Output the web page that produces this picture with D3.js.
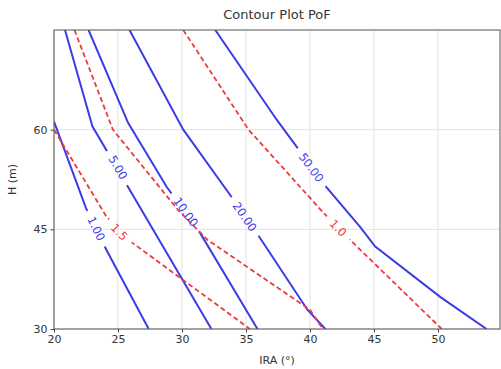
<!DOCTYPE html>
<html>
<head>
<meta charset="utf-8">
<script src="https://cdn.jsdelivr.net/npm/d3@7"></script>
<style>
  body { margin: 0; background: #fff; }
  text { font-family: "DejaVu Sans", sans-serif; }
</style>
</head>
<body>
<div id="chart"></div>
<script>
// contour lines, [IRA, H]
const pof1 = [[20, 61.2], [22.5, 48.2], [24.1, 41.9], [27.4, 30]];
const pof5 = [[20.86, 75], [23.0, 60.5], [27.3, 46.4], [32.3, 30]];
const pof10 = [[22.7, 75], [25.8, 61], [28.8, 51.4], [31.4, 44.5], [35.9, 30]];
const pof20 = [[25.9, 75], [30.1, 60], [33.75, 50.2], [36.1, 43.7], [39.8, 32.9], [41.2, 30]];
const pof50 = [[32.6, 75], [37.4, 61.5], [41.3, 51.3], [43.9, 45.4], [45.1, 42.4], [50.2, 34.8], [53.8, 30]];
const fs15 = [[20, 60], [24.1, 46.9], [26.1, 43], [32.2, 34.4], [35.3, 30]];
const fs12 = [[21.6, 75], [24.6, 60], [29.7, 47.9], [32.0, 43.4], [40.0, 32.9], [41.0, 30]];
const fs10 = [[30.1, 75], [35.2, 60], [41.0, 47.6], [43.3, 43.1], [50.3, 30]];

const pofLevels = ["1.00", "5.00", "10.00", "20.00", "50.00"];
const pofLabelAt = [[23.3, 45.1], [25.0, 54.3], [30.3, 47.6], [34.9, 46.9], [40.1, 54.3]];
const fsLevels = ["1.5", null, "1.0"];
const fsLabelAt = [[25.1, 44.6], null, [42.2, 45.2]];

const xTicks = [20, 25, 30, 35, 40, 45, 50];
const yTicks = [30, 45, 60];

const W = 501, H = 369;
const margin = { top: 30, right: 1, bottom: 40, left: 54 };
const iw = W - margin.left - margin.right;
const ih = H - margin.top - margin.bottom;

const blue = "#3b3be8";
const red = "#ee3a3a";

const svg = d3.select("#chart").append("svg")
  .attr("width", W)
  .attr("height", H);

const x = d3.scaleLinear().domain([20, 54.85]).range([0, iw]);
const y = d3.scaleLinear().domain([30, 75]).range([ih, 0]);

const defs = svg.append("defs");
defs.append("clipPath").attr("id", "plotclip")
  .append("rect").attr("width", iw).attr("height", ih);

const g = svg.append("g")
  .attr("transform", `translate(${margin.left},${margin.top})`);

// grid
g.append("g")
  .selectAll("line")
  .data(xTicks)
  .join("line")
  .attr("x1", (d) => x(d)).attr("x2", (d) => x(d))
  .attr("y1", 0).attr("y2", ih)
  .attr("stroke", "#e2e2e2");
g.append("g")
  .selectAll("line")
  .data(yTicks)
  .join("line")
  .attr("x1", 0).attr("x2", iw)
  .attr("y1", (d) => y(d)).attr("y2", (d) => y(d))
  .attr("stroke", "#e2e2e2");

const line = d3.line().x((d) => x(d[0])).y((d) => y(d[1]));

// screen angle of the line where the label sits
function angleAt(pts, at) {
  for (let i = 0; i < pts.length - 1; i++) {
    const a = pts[i], b = pts[i + 1];
    if (at[1] <= a[1] && at[1] >= b[1]) {
      return Math.atan2(y(b[1]) - y(a[1]), x(b[0]) - x(a[0])) * 180 / Math.PI;
    }
  }
  return 55;
}

const series = [
  { pts: pof1, label: pofLevels[0], at: pofLabelAt[0], color: blue, dash: null },
  { pts: pof5, label: pofLevels[1], at: pofLabelAt[1], color: blue, dash: null },
  { pts: pof10, label: pofLevels[2], at: pofLabelAt[2], color: blue, dash: null },
  { pts: pof20, label: pofLevels[3], at: pofLabelAt[3], color: blue, dash: null },
  { pts: pof50, label: pofLevels[4], at: pofLabelAt[4], color: blue, dash: null },
  { pts: fs15, label: fsLevels[0], at: fsLabelAt[0], color: red, dash: "5,3" },
  { pts: fs12, label: fsLevels[1], at: fsLabelAt[1], color: red, dash: "5,3" },
  { pts: fs10, label: fsLevels[2], at: fsLabelAt[2], color: red, dash: "5,3" },
];

const plot = g.append("g").attr("clip-path", "url(#plotclip)");
const labelLayer = g.append("g");

series.forEach((s, i) => {
  let maskId = null;
  if (s.label) {
    const ang = angleAt(s.pts, s.at);
    const lx = x(s.at[0]), ly = y(s.at[1]);
    const t = labelLayer.append("text")
      .attr("transform", `translate(${lx},${ly}) rotate(${ang})`)
      .attr("text-anchor", "middle")
      .attr("dy", "0.35em")
      .attr("font-size", 11.5)
      .attr("fill", s.color)
      .text(s.label);
    const tw = t.node().getComputedTextLength() + 14;
    maskId = "m" + i;
    const m = defs.append("mask").attr("id", maskId)
      .attr("maskUnits", "userSpaceOnUse")
      .attr("x", -10).attr("y", -10).attr("width", iw + 20).attr("height", ih + 20);
    m.append("rect").attr("x", -10).attr("y", -10)
      .attr("width", iw + 20).attr("height", ih + 20).attr("fill", "white");
    m.append("rect")
      .attr("x", -tw / 2).attr("y", -7).attr("width", tw).attr("height", 14)
      .attr("transform", `translate(${lx},${ly}) rotate(${ang})`)
      .attr("fill", "black");
  }
  plot.append("path")
    .datum(s.pts)
    .attr("d", line)
    .attr("fill", "none")
    .attr("stroke", s.color)
    .attr("stroke-width", s.dash ? 1.8 : 2)
    .attr("stroke-dasharray", s.dash)
    .attr("mask", maskId ? `url(#${maskId})` : null);
});

// frame
g.append("rect")
  .attr("width", iw).attr("height", ih)
  .attr("fill", "none")
  .attr("stroke", "#555")
  .attr("stroke-width", 1);

// axes
const xAxis = g.append("g")
  .attr("transform", `translate(0,${ih})`)
  .call(d3.axisBottom(x).tickValues(xTicks).tickSize(3.5).tickPadding(3));
const yAxis = g.append("g")
  .call(d3.axisLeft(y).tickValues(yTicks).tickSize(3.5).tickPadding(3));
[xAxis, yAxis].forEach((a) => {
  a.select(".domain").remove();
  a.selectAll(".tick line").attr("stroke", "#444");
  a.selectAll(".tick text")
    .attr("font-size", 11)
    .attr("fill", "#333")
    .attr("font-family", "DejaVu Sans, sans-serif");
});

svg.append("text")
  .attr("x", margin.left + iw / 2)
  .attr("y", 19)
  .attr("text-anchor", "middle")
  .attr("font-size", 13)
  .attr("fill", "#333")
  .text("Contour Plot PoF");

svg.append("text")
  .attr("x", margin.left + iw / 2)
  .attr("y", 364)
  .attr("text-anchor", "middle")
  .attr("font-size", 11)
  .attr("fill", "#333")
  .text("IRA (°)");

svg.append("text")
  .attr("transform", `translate(16,${margin.top + ih / 2}) rotate(-90)`)
  .attr("text-anchor", "middle")
  .attr("font-size", 11)
  .attr("fill", "#333")
  .text("H (m)");
</script>
</body>
</html>
